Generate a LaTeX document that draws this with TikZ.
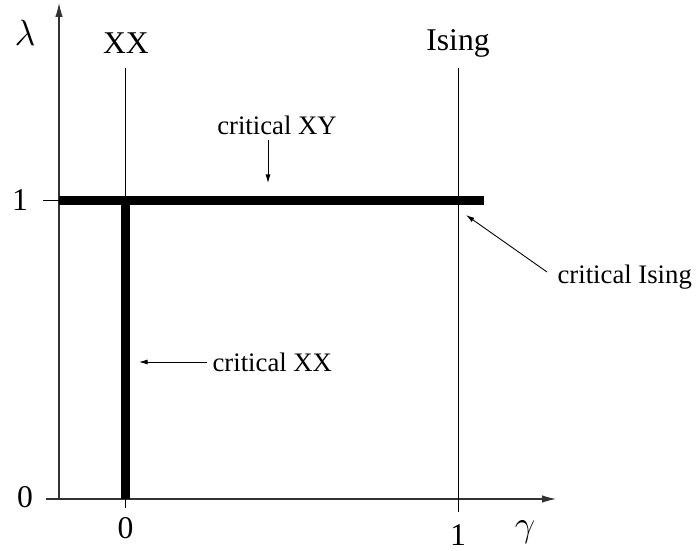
\documentclass[tikz,border=0pt]{standalone}
\usepackage{fontspec}
\setmainfont{Liberation Serif}
\usepackage{tikz}
\usetikzlibrary{positioning,arrows.meta,calc}
\tikzset{
  >=latex,
  every node/.style={font=\fontsize{18}{20}\selectfont},
  % --- lines
  ax/.style    = {-{Latex[length=0.28cm,width=0.15cm]}, line width=0.6pt, draw=black!80},
  thin/.style  = {line width=0.5pt},
  crit/.style  = {line width=5.1pt},
  % --- labels
  lbl/.style   = {font=\fontsize{15.2}{17}\selectfont, inner sep=3pt},
  greek/.style = {font=\fontsize{22}{24}\selectfont},
  pt/.style    = {-{Latex[length=0.17cm,width=0.1cm]}, line width=0.5pt},
}
\begin{document}
\begin{tikzpicture}
  \useasboundingbox (-1.18,-1.02) rectangle (12.74,9.98);
  % axes
  \coordinate (o) at (0,0);
  \coordinate (ytop) at (0,9.92);
  \coordinate (xl) at (-0.26,0);
  \coordinate (xr) at (9.94,0);
  \draw[ax] (o) -- (ytop);
  \draw[ax] (xl) -- (xr);
  \coordinate (t1) at (-0.32,5.97);
  \coordinate (t1r) at (0,5.97);
  \draw[thin] (t1) -- (t1r);

  % the two lines gamma=0 and gamma=1
  \coordinate (xxtop) at (1.33,8.62);
  \coordinate (xxbot) at (1.33,-0.18);
  \coordinate (istop) at (7.98,8.62);
  \coordinate (isbot) at (7.98,-0.26);
  \draw[thin] (xxtop) -- (xxbot);
  \draw[thin] (istop) -- (isbot);

  % critical lines
  \coordinate (hl) at (0,5.97);
  \coordinate (hr) at (8.5,5.97);
  \coordinate (vb) at (1.33,0);
  \coordinate (vt) at (1.33,5.97);
  \draw[crit] (hl) -- (hr);
  \draw[crit] (vb) -- (vt);

  % axis labels
  \node[greek] (lam) at (-0.68,9.32) {$\lambda$};
  \node[greek] (gam) at (9.32,-0.66) {$\gamma$};
  \node (y1) at (-0.78,5.97) {1};
  \node (y0) at (-0.68,0.04) {0};
  \node (g0) at (1.33,-0.58) {0};
  \node (g1) at (7.98,-0.72) {1};
  \node (xx) at (1.34,9.12) {XX};
  \node (ising) at (7.98,9.12) {Ising};

  % annotations
  \node[lbl] (cxy) at (4.36,7.48) {critical XY};
  \coordinate (cxyt) at (4.18,6.32);
  \draw[pt] (cxy.south -| cxyt) -- (cxyt);

  \node[lbl, anchor=west] (cis) at (9.86,4.44) {critical Ising};
  \coordinate (cist) at (8.14,5.68);
  \draw[pt] ($(cis.west)+(-0.1,0.1)$) -- (cist);

  \node[lbl, anchor=west] (cxx) at (2.96,2.74) {critical XX};
  \coordinate (cxxt) at (1.6,2.74);
  \draw[pt] (cxx.west) -- (cxxt);
\end{tikzpicture}
\end{document}
